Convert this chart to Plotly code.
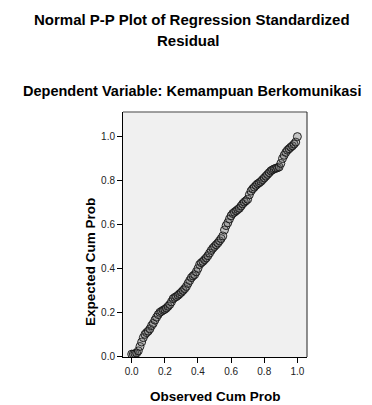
import plotly.graph_objects as go

observed = [0.00, 0.01, 0.02, 0.03, 0.04, 0.05, 0.06, 0.07, 0.08, 0.09,
            0.10, 0.11, 0.12, 0.13, 0.14, 0.15, 0.16, 0.17, 0.18, 0.19,
            0.20, 0.21, 0.22, 0.23, 0.24, 0.25, 0.26, 0.27, 0.28, 0.29,
            0.30, 0.31, 0.32, 0.33, 0.34, 0.35, 0.36, 0.37, 0.38, 0.39,
            0.40, 0.41, 0.42, 0.43, 0.44, 0.45, 0.46, 0.47, 0.48, 0.49,
            0.50, 0.51, 0.52, 0.53, 0.54, 0.55, 0.56, 0.57, 0.58, 0.59,
            0.60, 0.61, 0.62, 0.63, 0.64, 0.65, 0.66, 0.67, 0.68, 0.69,
            0.70, 0.71, 0.72, 0.73, 0.74, 0.75, 0.76, 0.77, 0.78, 0.79,
            0.80, 0.81, 0.82, 0.83, 0.84, 0.85, 0.86, 0.87, 0.88, 0.89,
            0.90, 0.91, 0.92, 0.93, 0.94, 0.95, 0.96, 0.97, 0.98, 0.99,
            1.00]
expected = [0.010, 0.010, 0.012, 0.015, 0.025, 0.045, 0.065, 0.085, 0.100, 0.108,
            0.115, 0.125, 0.140, 0.150, 0.165, 0.178, 0.190, 0.200, 0.205, 0.210,
            0.214, 0.220, 0.228, 0.236, 0.248, 0.262, 0.268, 0.272, 0.278, 0.285,
            0.292, 0.300, 0.308, 0.318, 0.332, 0.345, 0.358, 0.366, 0.372, 0.385,
            0.400, 0.418, 0.426, 0.432, 0.440, 0.448, 0.458, 0.470, 0.482, 0.492,
            0.500, 0.508, 0.516, 0.526, 0.536, 0.548, 0.575, 0.595, 0.608, 0.625,
            0.640, 0.650, 0.656, 0.662, 0.668, 0.674, 0.684, 0.694, 0.702, 0.708,
            0.715, 0.735, 0.752, 0.762, 0.770, 0.778, 0.785, 0.790, 0.796, 0.804,
            0.812, 0.820, 0.828, 0.836, 0.844, 0.849, 0.853, 0.856, 0.858, 0.862,
            0.878, 0.900, 0.915, 0.928, 0.938, 0.945, 0.952, 0.958, 0.966, 0.975,
            1.000]
tick_vals = [0.0, 0.2, 0.4, 0.6, 0.8, 1.0]
tick_text = ["0.0", "0.2", "0.4", "0.6", "0.8", "1.0"]

title_line1 = "Normal P-P Plot of Regression Standardized"
title_line2 = "Residual"
subtitle = "Dependent Variable: Kemampuan Berkomunikasi"
x_title = "Observed Cum Prob"
y_title = "Expected Cum Prob"

FONT = "Liberation Sans, Arial, sans-serif"

# page body has an 8px margin, so the figure is drawn 8px smaller and all
# pixel targets below are page pixels minus 8
W, H = 364, 397
L, R, T, B = 115, 65, 104, 48

fig = go.Figure()
fig.add_trace(go.Scatter(
    x=observed, y=expected, mode="markers",
    marker=dict(symbol="circle", size=8, color="rgba(100,100,100,0.3)",
                line=dict(width=1, color="rgba(20,20,20,0.9)")),
    hoverinfo="x+y", showlegend=False))

fig.update_layout(
    width=W, height=H,
    margin=dict(l=L, r=R, t=T, b=B, pad=0),
    paper_bgcolor="white", plot_bgcolor="#f0f0f0",
    font=dict(family=FONT, color="#111111", size=10),
    xaxis=dict(range=[-0.0525, 1.058], tickvals=tick_vals, ticktext=tick_text,
               ticks="outside", ticklen=5, tickcolor="black", tickwidth=1,
               showline=True, linecolor="black", linewidth=1,
               showgrid=False, zeroline=False, tickfont=dict(size=10, color="#222")),
    yaxis=dict(range=[-0.003, 1.112], tickvals=tick_vals, ticktext=tick_text,
               ticks="outside", ticklen=5, tickcolor="black", tickwidth=1,
               showline=True, linecolor="black", linewidth=1,
               showgrid=False, zeroline=False, tickfont=dict(size=10, color="#222")),
    shapes=[
        dict(type="line", xref="paper", yref="paper", x0=0, x1=1, y0=1, y1=1,
             line=dict(color="#808080", width=1.5)),
        dict(type="line", xref="paper", yref="paper", x0=1, x1=1, y0=0, y1=1,
             line=dict(color="#222222", width=1)),
    ],
)

pw = W - L - R
ph = H - T - B
def px(xp):
    return (xp - L) / pw
def py(yp):
    return (H - B - yp) / ph

texts = [
    ("<b>" + title_line1 + "</b>", 184, 12, 15, 0),
    ("<b>" + title_line2 + "</b>", 180, 32, 15, 0),
    ("<b>" + subtitle + "</b>", 184, 83, 14.5, 0),
    ("<b>" + x_title + "</b>", 207, 388, 13.5, 0),
    ("<b>" + y_title + "</b>", 82, 254, 13.5, -90),
]
for t, tx, ty, fs, ang in texts:
    fig.add_annotation(text=t, xref="paper", yref="paper", x=px(tx), y=py(ty),
                       xanchor="center", yanchor="middle", showarrow=False,
                       textangle=ang, font=dict(size=fs, color="black"))

fig.write_html("out.html")
